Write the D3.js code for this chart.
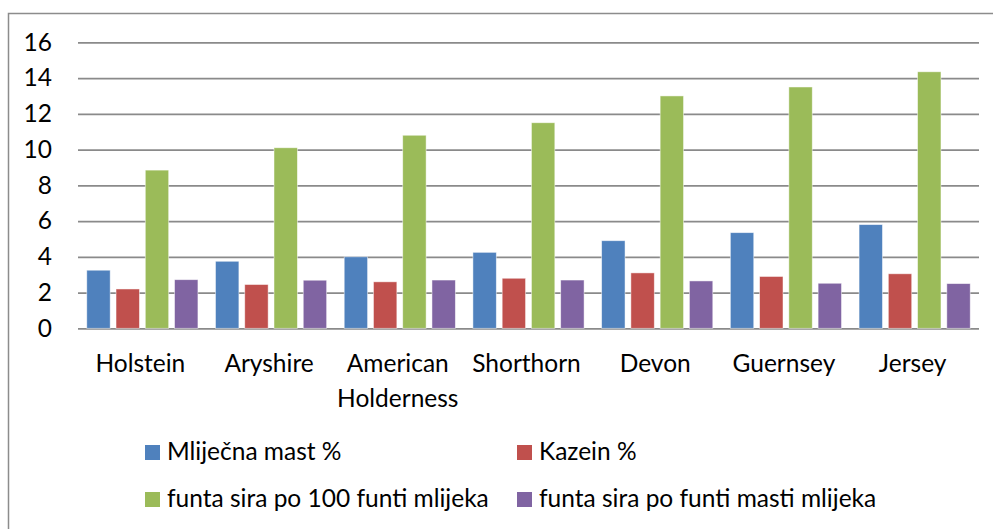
<!DOCTYPE html>
<html>
<head>
<meta charset="utf-8">
<script src="https://cdn.jsdelivr.net/npm/d3@7"></script>
<style>
  body { margin: 0; background: #fff; }
  text { font-family: Lato, "Open Sans", sans-serif; fill: #000; }
</style>
</head>
<body>
<svg id="canvas" width="993" height="529"></svg>
<script>
var categories = ['Holstein', 'Aryshire', 'American Holderness', 'Shorthorn', 'Devon', 'Guernsey', 'Jersey'];
var series_names = ['Mliječna mast %', 'Kazein %', 'funta sira po 100 funti mlijeka', 'funta sira po funti masti mlijeka'];
var milk_fat = [3.25, 3.75, 4.0, 4.25, 4.9, 5.35, 5.8];
var casein = [2.2, 2.45, 2.6, 2.8, 3.1, 2.9, 3.05];
var cheese_per_100 = [8.85, 10.1, 10.8, 11.5, 13.0, 13.5, 14.35];
var cheese_per_fat = [2.72, 2.69, 2.7, 2.7, 2.65, 2.52, 2.5];
var y_ticks = [0, 2, 4, 6, 8, 10, 12, 14, 16];
var colors = ['#4F81BD', '#C0504D', '#9BBB59', '#8064A2'];

var series_values = [milk_fat, casein, cheese_per_100, cheese_per_fat];
var svg = d3.select('#canvas');

// ************************************************************************************************** //
// Frame

svg.append('rect')
  .attr('x', 8.5).attr('y', 13.5).attr('width', 1000).attr('height', 600)
  .style('fill', 'none').style('stroke', '#8c8c8c').style('stroke-width', 1.5);

// ************************************************************************************************** //
// Scales

var xScale = d3.scaleBand().domain(categories).range([78, 979]).padding(0);
var xInner = d3.scaleBand().domain(d3.range(series_names.length)).range([0, xScale.bandwidth()]).paddingInner(0.2).paddingOuter(0.3);
var yScale = d3.scaleLinear().domain([0, 16]).range([328.3, 42.3]);

// ************************************************************************************************** //
// Grid + y axis

var yAxis = svg.append('g').attr('transform', 'translate(78,0)')
  .call(d3.axisLeft(yScale).tickValues(y_ticks).tickSize(-901).tickPadding(26).tickFormat(d3.format('d')));
yAxis.select('.domain').remove();
yAxis.selectAll('.tick line').style('stroke', '#8a8a8a').style('stroke-width', 1.8);
yAxis.selectAll('.tick text').style('font-size', '24.5px').style('font-family', 'Lato, sans-serif').attr('fill', '#000');

// ************************************************************************************************** //
// Bars

var groups = svg.append('g').selectAll('g')
  .data(series_values)
  .enter().append('g')
  .style('fill', (d, i) => colors[i]);

groups.each(function(vals, s){
  d3.select(this).selectAll('rect')
    .data(vals)
    .enter().append('rect')
    .attr('x', (d, i) => xScale(categories[i]) + xInner(s))
    .attr('width', xInner.bandwidth())
    .attr('y', d => yScale(d))
    .attr('height', d => yScale(0) - yScale(d))
    .style('stroke', 'rgba(255,255,255,0.6)')
    .style('stroke-width', 0.8);
});

// ************************************************************************************************** //
// Category labels

var labels = svg.append('g').selectAll('text')
  .data(categories)
  .enter().append('text')
  .attr('x', d => xScale(d) + xScale.bandwidth()/2 - 2)
  .attr('y', 372)
  .attr('text-anchor', 'middle')
  .style('font-size', '24.5px');

labels.each(function(d){
  var words = d.split(' ');
  var el = d3.select(this);
  words.forEach((w, i) => {
    el.append('tspan').attr('x', el.attr('x')).attr('dy', i == 0 ? 0 : 35).text(w);
  });
});

// ************************************************************************************************** //
// Legend

var legend_pos = [[145, 445], [517, 445], [145, 492], [517, 492]];

var legend = svg.append('g').selectAll('g')
  .data(series_names)
  .enter().append('g')
  .attr('transform', (d, i) => 'translate(' + legend_pos[i][0] + ',' + legend_pos[i][1] + ')');

legend.append('rect')
  .attr('width', 15).attr('height', 15)
  .style('fill', (d, i) => colors[i]);

legend.append('text')
  .attr('x', 22).attr('y', 15)
  .style('font-size', '24.5px')
  .text(d => d);
</script>
</body>
</html>
